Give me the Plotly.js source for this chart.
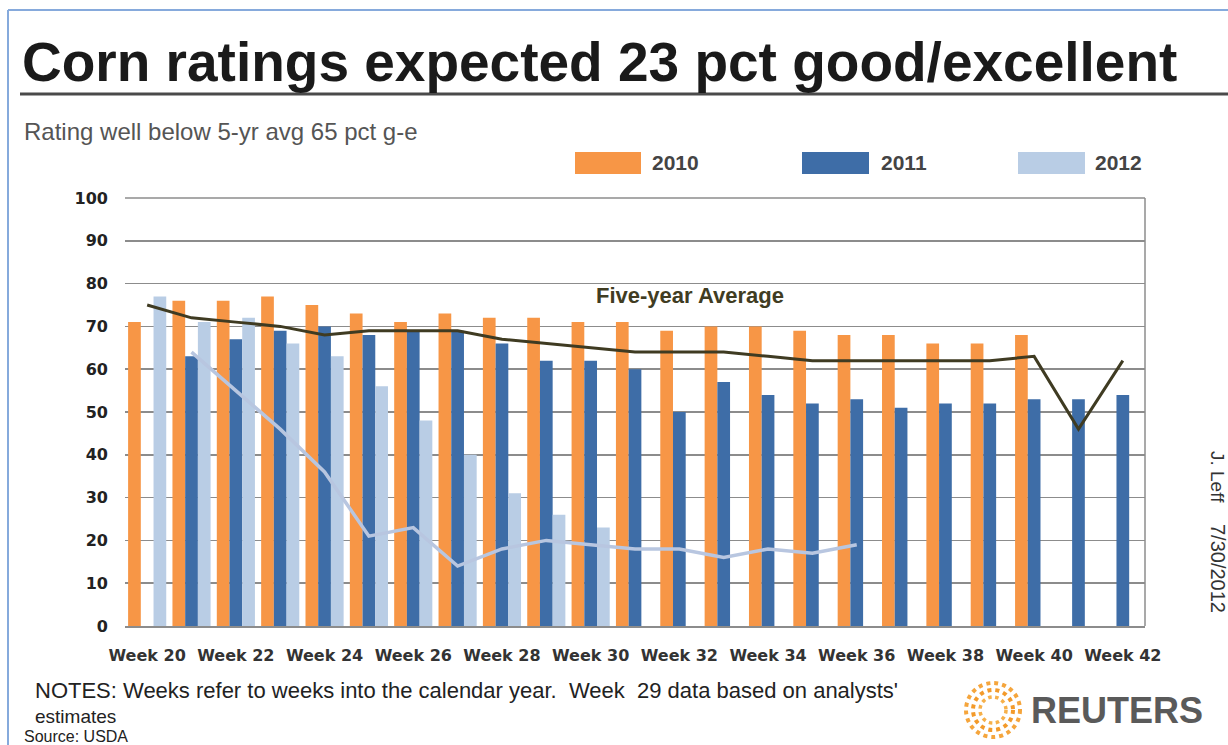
<!DOCTYPE html>
<html><head><meta charset="utf-8">
<script src="https://cdn.plot.ly/plotly-3.0.1.min.js"></script>
<style>html,body{margin:0;padding:0;background:#fff;}#chart{width:1228px;height:745px;}</style>
</head><body><div id="chart"></div>
<script>
// ---- data ----
const weeks = ["Week 20","Week 21","Week 22","Week 23","Week 24","Week 25","Week 26","Week 27","Week 28","Week 29","Week 30","Week 31","Week 32","Week 33","Week 34","Week 35","Week 36","Week 37","Week 38","Week 39","Week 40","Week 41","Week 42"];
const tickWeeks = ["Week 20","Week 22","Week 24","Week 26","Week 28","Week 30","Week 32","Week 34","Week 36","Week 38","Week 40","Week 42"];
const seriesNames = ["2010","2011","2012"];
const y2010 = [71,76,76,77,75,73,71,73,72,72,71,71,69,70,70,69,68,68,66,66,68,null,null];
const y2011 = [null,63,67,69,70,68,69,69,66,62,62,60,50,57,54,52,53,51,52,52,53,53,54];
const y2012 = [77,71,72,66,63,56,48,40,31,26,23,null,null,null,null,null,null,null,null,null,null,null,null];
const fiveYearAvg = [75,72,71,70,68,69,69,69,67,66,65,64,64,64,63,62,62,62,62,62,63,46,62];
const line2012 = [null,64,55,46,36,21,23,14,18,20,19,18,18,16,18,17,19,null,null,null,null,null,null];
const avgLabel = "Five-year Average";

// ---- styles ----
const barColors = ["#F79646","#3E6DA7","#B9CDE5"];
const FONT = "Liberation Sans, Arial, sans-serif";
const L = 125, R = 1145, T = 198, B = 626;
const px = x => (x - L) / (R - L);
const py = y => (B - y) / (B - T);

const traces = [
  {type:"bar", name:seriesNames[0], x:weeks, y:y2010, marker:{color:barColors[0]}},
  {type:"bar", name:seriesNames[1], x:weeks, y:y2011, marker:{color:barColors[1]}},
  {type:"bar", name:seriesNames[2], x:weeks, y:y2012, marker:{color:barColors[2]}},
  {type:"scatter", mode:"lines", name:"2012 line", x:weeks, y:line2012, line:{color:"#B8C6E0", width:3.5}, connectgaps:false},
  {type:"scatter", mode:"lines", name:avgLabel, x:weeks, y:fiveYearAvg, line:{color:"#3F3B22", width:3}}
];

function txt(text, x, y, size, opts) {
  return Object.assign({text:text, xref:"paper", yref:"paper", x:px(x), y:py(y),
    xanchor:"left", yanchor:"middle", showarrow:false,
    font:{family:FONT, size:size, color:"#222"}}, opts || {});
}

const legendX = [[575,641,650],[802,869,879],[1018,1085,1093]];
const shapes = [
  // outer frame
  {type:"line", xref:"paper", yref:"paper", x0:px(8), x1:px(1228), y0:py(10), y1:py(10), line:{color:"#86AADC", width:2}},
  {type:"line", xref:"paper", yref:"paper", x0:px(8), x1:px(8), y0:py(10), y1:py(745), line:{color:"#86AADC", width:2}},
  // title underline
  {type:"line", xref:"paper", yref:"paper", x0:px(20), x1:px(1228), y0:py(94), y1:py(94), line:{color:"#4A4A4A", width:3}},
  // plot right border + top
  {type:"line", xref:"paper", yref:"paper", x0:1, x1:1, y0:0, y1:1, line:{color:"#8C8C8C", width:1.5}},
  {type:"line", xref:"paper", yref:"paper", x0:0, x1:1, y0:1, y1:1, line:{color:"#8C8C8C", width:1.5}},
  // Reuters logo rings
  {type:"circle", xref:"paper", yref:"paper", x0:px(993-27), x1:px(993+27), y0:py(710+27), y1:py(710-27), line:{color:"#F5A53C", width:4, dash:"dot"}},
  {type:"circle", xref:"paper", yref:"paper", x0:px(993-20), x1:px(993+20), y0:py(710+20), y1:py(710-20), line:{color:"#F39A2A", width:4, dash:"dot"}},
  {type:"circle", xref:"paper", yref:"paper", x0:px(993-13), x1:px(993+13), y0:py(710+13), y1:py(710-13), line:{color:"#F6B04A", width:3.5, dash:"dot"}}
];
const annotations = [
  txt("Rating well below 5-yr avg 65 pct g-e", 22, 131, 24, {font:{family:FONT, size:24, color:"#555"}}),
  txt("<b>" + avgLabel + "</b>", 594, 295, 22, {font:{family:FONT, size:22, color:"#403C22"}}),
  txt("NOTES: Weeks refer to weeks into the calendar year.  Week  29 data based on analysts'", 33, 690, 22),
  txt("estimates", 33, 716, 19),
  txt("Source: USDA", 22, 736, 16),
  txt("<b>REUTERS</b>", 1029, 710, 36, {font:{family:FONT, size:36, color:"#5A5A5A"}}),
  txt("J. Leff", 1218, 477, 19, {xanchor:"center", textangle:90, font:{family:FONT, size:19, color:"#333"}}),
  txt("7/30/2012", 1218, 568, 20, {xanchor:"center", textangle:90, font:{family:FONT, size:20, color:"#333"}})
];
seriesNames.forEach((n, i) => {
  const [a, b, t] = legendX[i];
  shapes.push({type:"rect", xref:"paper", yref:"paper", x0:px(a), x1:px(b), y0:py(174), y1:py(152), fillcolor:barColors[i], line:{width:0}});
  annotations.push(txt("<b>" + n + "</b>", t, 162, 21, {font:{family:FONT, size:21, color:"#444"}}));
});

const layout = {
  width:1228, height:745,
  margin:{l:L, r:1228-R, t:T, b:745-B, pad:0},
  paper_bgcolor:"#fff", plot_bgcolor:"#fff",
  showlegend:false,
  barmode:"group", bargap:0.14, bargroupgap:0,
  title:{text:"<b>Corn ratings expected 23 pct good/excellent</b>", xref:"container", yref:"container",
    x:22/1228, xanchor:"left", y:1-62/745, yanchor:"middle",
    font:{family:FONT, size:55, color:"#1A1A1A"}},
  xaxis:{type:"category", tickvals:tickWeeks, ticktext:tickWeeks, ticks:"", showgrid:false,
    showline:true, linecolor:"#8C8C8C", linewidth:1.5, ticklabelstandoff:14,
    tickfont:{family:"DejaVu Sans, sans-serif", size:16, color:"#333", weight:"bold"}, tickangle:0},
  yaxis:{range:[0,100], dtick:10, tick0:0, ticks:"", showgrid:true, gridcolor:"#8C8C8C", gridwidth:1.5,
    zeroline:false, showline:false, ticklabelstandoff:16,
    tickfont:{family:"DejaVu Sans, sans-serif", size:16, color:"#222", weight:"bold"}},
  shapes:shapes, annotations:annotations
};

Plotly.newPlot("chart", traces, layout, {staticPlot:true, displayModeBar:false});
</script></body></html>
